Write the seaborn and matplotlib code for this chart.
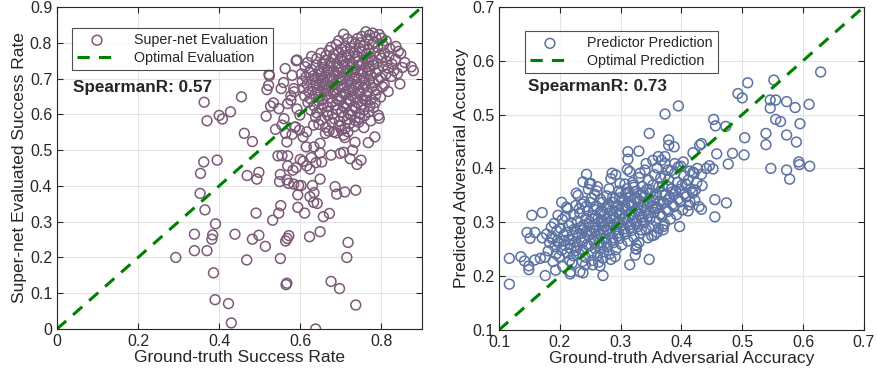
import matplotlib
matplotlib.use("Agg")
import matplotlib.pyplot as plt
import matplotlib.ticker as mticker
import numpy as np
import pandas as pd
import seaborn as sns

# ---- left panel: super-net evaluation (ground truth, evaluated) ----
supernet_sparse = [
    (0.293, 0.200), (0.339, 0.219), (0.339, 0.265), (0.370, 0.219), (0.382, 0.251),
    (0.384, 0.263), (0.391, 0.294), (0.386, 0.157), (0.390, 0.082), (0.423, 0.071),
    (0.430, 0.017), (0.439, 0.265), (0.468, 0.193), (0.482, 0.251), (0.498, 0.262),
    (0.514, 0.231), (0.491, 0.324), (0.532, 0.304), (0.547, 0.324), (0.552, 0.345),
    (0.551, 0.197), (0.565, 0.124), (0.567, 0.128), (0.564, 0.246), (0.568, 0.253),
    (0.572, 0.261), (0.623, 0.258), (0.649, 0.272), (0.638, 0.000), (0.676, 0.133),
    (0.697, 0.113), (0.737, 0.067), (0.718, 0.242), (0.715, 0.200), (0.611, 0.324),
    (0.657, 0.314), (0.672, 0.323), (0.594, 0.340), (0.633, 0.354), (0.642, 0.351),
    (0.634, 0.381), (0.624, 0.370), (0.630, 0.401), (0.649, 0.419), (0.686, 0.398),
    (0.690, 0.377), (0.710, 0.383), (0.737, 0.388), (0.594, 0.375), (0.596, 0.401),
    (0.602, 0.401), (0.584, 0.405), (0.571, 0.407), (0.549, 0.412), (0.551, 0.432),
    (0.567, 0.417), (0.353, 0.379), (0.365, 0.333), (0.354, 0.435), (0.362, 0.467),
    (0.395, 0.472), (0.469, 0.429), (0.493, 0.419), (0.498, 0.438), (0.462, 0.547),
    (0.482, 0.524), (0.363, 0.634), (0.370, 0.582), (0.400, 0.597), (0.408, 0.587),
    (0.428, 0.607), (0.455, 0.649), (0.516, 0.595), (0.527, 0.623), (0.534, 0.632),
    (0.547, 0.616), (0.518, 0.669), (0.522, 0.681), (0.523, 0.712), (0.524, 0.708),
    (0.553, 0.672), (0.559, 0.689), (0.563, 0.728), (0.580, 0.709), (0.590, 0.750),
    (0.584, 0.672), (0.577, 0.640), (0.569, 0.630), (0.539, 0.558), (0.555, 0.570),
    (0.560, 0.588), (0.564, 0.547), (0.567, 0.523), (0.580, 0.544), (0.587, 0.564),
    (0.545, 0.484), (0.555, 0.485), (0.569, 0.484), (0.569, 0.456), (0.582, 0.444),
    (0.590, 0.451), (0.600, 0.474), (0.607, 0.469), (0.616, 0.456), (0.624, 0.447),
    (0.627, 0.479), (0.639, 0.465), (0.649, 0.492), (0.653, 0.467), (0.676, 0.486),
    (0.699, 0.491), (0.707, 0.494), (0.723, 0.476), (0.729, 0.500), (0.735, 0.522),
    (0.740, 0.460), (0.750, 0.472), (0.768, 0.521), (0.784, 0.537), (0.793, 0.597),
    (0.707, 0.542), (0.710, 0.535), (0.682, 0.551), (0.662, 0.547), (0.649, 0.519),
    (0.634, 0.509), (0.615, 0.509), (0.607, 0.537), (0.616, 0.551), (0.633, 0.570),
    (0.585, 0.663), (0.577, 0.652), (0.592, 0.615), (0.599, 0.598), (0.588, 0.565),
    (0.598, 0.556),
]

supernet_cluster = [
    (0.707, 0.824), (0.752, 0.818), (0.762, 0.831), (0.771, 0.822), (0.779, 0.827),
    (0.786, 0.816), (0.795, 0.823),
    (0.695, 0.806), (0.716, 0.811), (0.728, 0.803), (0.741, 0.812), (0.748, 0.800),
    (0.768, 0.809), (0.783, 0.802), (0.801, 0.813), (0.812, 0.805),
    (0.676, 0.788), (0.689, 0.795), (0.702, 0.782), (0.711, 0.791), (0.724, 0.786),
    (0.735, 0.797), (0.746, 0.784), (0.757, 0.792), (0.769, 0.781), (0.778, 0.796),
    (0.791, 0.787), (0.805, 0.793), (0.821, 0.784), (0.836, 0.790),
    (0.628, 0.762), (0.651, 0.771), (0.664, 0.765), (0.671, 0.778), (0.683, 0.768),
    (0.694, 0.774), (0.703, 0.761), (0.712, 0.776), (0.721, 0.767), (0.733, 0.772),
    (0.741, 0.763), (0.752, 0.777), (0.764, 0.769), (0.773, 0.760), (0.782, 0.774),
    (0.796, 0.766), (0.808, 0.772), (0.819, 0.763), (0.842, 0.776), (0.848, 0.770),
    (0.592, 0.752), (0.618, 0.745), (0.641, 0.756), (0.655, 0.742), (0.662, 0.751),
    (0.673, 0.746), (0.681, 0.757), (0.690, 0.741), (0.699, 0.753), (0.707, 0.747),
    (0.716, 0.758), (0.725, 0.743), (0.734, 0.754), (0.743, 0.748), (0.751, 0.741),
    (0.760, 0.755), (0.769, 0.746), (0.778, 0.752), (0.789, 0.743), (0.801, 0.757),
    (0.813, 0.748), (0.826, 0.741), (0.835, 0.754), (0.858, 0.745),
    (0.612, 0.733), (0.627, 0.726), (0.639, 0.738), (0.648, 0.722), (0.657, 0.731),
    (0.666, 0.725), (0.674, 0.736), (0.683, 0.721), (0.692, 0.732), (0.700, 0.727),
    (0.709, 0.739), (0.718, 0.723), (0.727, 0.734), (0.736, 0.728), (0.744, 0.737),
    (0.753, 0.721), (0.762, 0.733), (0.771, 0.726), (0.780, 0.738), (0.792, 0.724),
    (0.804, 0.735), (0.817, 0.729), (0.831, 0.722), (0.852, 0.731), (0.874, 0.733),
    (0.879, 0.722),
    (0.603, 0.713), (0.614, 0.704), (0.622, 0.717), (0.633, 0.708), (0.644, 0.701),
    (0.652, 0.714), (0.661, 0.706), (0.669, 0.718), (0.678, 0.703), (0.687, 0.711),
    (0.695, 0.716), (0.704, 0.702), (0.713, 0.712), (0.722, 0.707), (0.731, 0.719),
    (0.739, 0.704), (0.748, 0.713), (0.757, 0.701), (0.766, 0.715), (0.775, 0.708),
    (0.786, 0.717), (0.798, 0.703), (0.811, 0.712), (0.825, 0.706), (0.840, 0.714),
    (0.605, 0.693), (0.617, 0.684), (0.629, 0.697), (0.638, 0.688), (0.647, 0.681),
    (0.656, 0.694), (0.664, 0.686), (0.673, 0.698), (0.682, 0.683), (0.690, 0.691),
    (0.699, 0.696), (0.708, 0.682), (0.717, 0.692), (0.726, 0.687), (0.734, 0.699),
    (0.743, 0.684), (0.752, 0.693), (0.761, 0.681), (0.770, 0.695), (0.781, 0.688),
    (0.793, 0.697), (0.807, 0.683), (0.846, 0.685),
    (0.608, 0.673), (0.621, 0.664), (0.632, 0.677), (0.642, 0.668), (0.651, 0.661),
    (0.660, 0.674), (0.668, 0.666), (0.677, 0.678), (0.686, 0.663), (0.694, 0.671),
    (0.703, 0.676), (0.712, 0.662), (0.721, 0.672), (0.730, 0.667), (0.738, 0.679),
    (0.747, 0.664), (0.756, 0.673), (0.765, 0.661), (0.776, 0.675), (0.789, 0.668),
    (0.803, 0.677), (0.817, 0.664),
    (0.611, 0.652), (0.625, 0.644), (0.637, 0.657), (0.646, 0.648), (0.655, 0.641),
    (0.664, 0.654), (0.673, 0.646), (0.682, 0.658), (0.691, 0.643), (0.700, 0.651),
    (0.709, 0.656), (0.718, 0.642), (0.727, 0.652), (0.736, 0.647), (0.745, 0.659),
    (0.754, 0.644), (0.763, 0.653), (0.774, 0.641), (0.786, 0.655), (0.798, 0.648),
    (0.619, 0.633), (0.634, 0.624), (0.645, 0.637), (0.656, 0.628), (0.668, 0.621),
    (0.679, 0.634), (0.688, 0.626), (0.697, 0.638), (0.706, 0.623), (0.715, 0.631),
    (0.724, 0.636), (0.733, 0.622), (0.742, 0.632), (0.751, 0.627), (0.761, 0.639),
    (0.772, 0.624), (0.785, 0.633),
    (0.626, 0.612), (0.641, 0.604), (0.653, 0.617), (0.667, 0.608), (0.680, 0.601),
    (0.692, 0.614), (0.701, 0.606), (0.710, 0.618), (0.719, 0.603), (0.728, 0.611),
    (0.737, 0.616), (0.747, 0.602), (0.757, 0.612), (0.769, 0.607), (0.781, 0.619),
    (0.638, 0.592), (0.652, 0.584), (0.668, 0.597), (0.684, 0.588), (0.697, 0.581),
    (0.707, 0.594), (0.716, 0.586), (0.725, 0.598), (0.735, 0.583), (0.746, 0.591),
    (0.759, 0.596), (0.774, 0.582), (0.795, 0.589),
    (0.646, 0.572), (0.663, 0.564), (0.679, 0.577), (0.695, 0.568), (0.711, 0.561),
    (0.722, 0.574), (0.733, 0.566), (0.744, 0.578), (0.757, 0.563),
    (0.671, 0.553), (0.689, 0.548), (0.702, 0.556), (0.718, 0.551),
]

# ---- right panel: predictor prediction (ground truth, predicted) ----
predictor_sparse = [
    (0.117, 0.185), (0.117, 0.233), (0.136, 0.236), (0.142, 0.228), (0.149, 0.219),
    (0.149, 0.212), (0.146, 0.281), (0.159, 0.281), (0.151, 0.270), (0.154, 0.313),
    (0.171, 0.318), (0.171, 0.271), (0.176, 0.201), (0.168, 0.233), (0.176, 0.235),
    (0.159, 0.230), (0.189, 0.227), (0.193, 0.211), (0.205, 0.218), (0.217, 0.204),
    (0.218, 0.208), (0.233, 0.208), (0.238, 0.206), (0.271, 0.201), (0.254, 0.221),
    (0.266, 0.219), (0.284, 0.231), (0.315, 0.221), (0.347, 0.231), (0.324, 0.239),
    (0.326, 0.258), (0.326, 0.250), (0.397, 0.292), (0.455, 0.310), (0.474, 0.336),
    (0.455, 0.342), (0.433, 0.324), (0.429, 0.329), (0.434, 0.368), (0.419, 0.354),
    (0.423, 0.360), (0.411, 0.321), (0.414, 0.338), (0.386, 0.357), (0.370, 0.286),
    (0.351, 0.275), (0.334, 0.286), (0.446, 0.405), (0.452, 0.399), (0.441, 0.400),
    (0.433, 0.389), (0.426, 0.400), (0.419, 0.393), (0.458, 0.427), (0.477, 0.408),
    (0.484, 0.428), (0.503, 0.425), (0.504, 0.457), (0.473, 0.478), (0.453, 0.491),
    (0.456, 0.479), (0.430, 0.443), (0.433, 0.446), (0.419, 0.429), (0.403, 0.412),
    (0.388, 0.440), (0.379, 0.443), (0.379, 0.453), (0.347, 0.465), (0.373, 0.501),
    (0.395, 0.516), (0.493, 0.539), (0.500, 0.531), (0.509, 0.559), (0.552, 0.564),
    (0.546, 0.527), (0.555, 0.527), (0.546, 0.512), (0.555, 0.491), (0.563, 0.487),
    (0.573, 0.524), (0.587, 0.513), (0.610, 0.519), (0.629, 0.579), (0.539, 0.465),
    (0.539, 0.444), (0.573, 0.462), (0.589, 0.449), (0.595, 0.483), (0.547, 0.400),
    (0.573, 0.397), (0.578, 0.380), (0.593, 0.412), (0.594, 0.407), (0.611, 0.404),
    (0.330, 0.432), (0.312, 0.431), (0.312, 0.417), (0.244, 0.389), (0.238, 0.375),
    (0.249, 0.371), (0.227, 0.354), (0.203, 0.337), (0.197, 0.313), (0.211, 0.328),
    (0.286, 0.391), (0.292, 0.388), (0.299, 0.372), (0.311, 0.398), (0.315, 0.394),
    (0.321, 0.369), (0.332, 0.391), (0.342, 0.409), (0.353, 0.415), (0.362, 0.422),
    (0.367, 0.415), (0.373, 0.422), (0.373, 0.409), (0.378, 0.397), (0.389, 0.409),
    (0.395, 0.403), (0.330, 0.262), (0.345, 0.271), (0.360, 0.281), (0.355, 0.276),
    (0.370, 0.292), (0.325, 0.251),
]

predictor_cluster = [
    (0.183, 0.262), (0.178, 0.278), (0.186, 0.291), (0.181, 0.247),
    (0.192, 0.255), (0.188, 0.269), (0.195, 0.284), (0.191, 0.298), (0.194, 0.241),
    (0.203, 0.248), (0.198, 0.262), (0.206, 0.276), (0.201, 0.289), (0.204, 0.305),
    (0.199, 0.236),
    (0.212, 0.243), (0.208, 0.257), (0.215, 0.268), (0.211, 0.281), (0.214, 0.294),
    (0.209, 0.311), (0.213, 0.325), (0.216, 0.229),
    (0.222, 0.238), (0.218, 0.251), (0.225, 0.263), (0.221, 0.275), (0.224, 0.287),
    (0.219, 0.299), (0.223, 0.314), (0.226, 0.331), (0.220, 0.224),
    (0.232, 0.241), (0.228, 0.254), (0.235, 0.266), (0.231, 0.278), (0.234, 0.290),
    (0.229, 0.302), (0.233, 0.317), (0.236, 0.334), (0.230, 0.350), (0.237, 0.227),
    (0.242, 0.235), (0.238, 0.248), (0.245, 0.259), (0.241, 0.271), (0.244, 0.283),
    (0.239, 0.295), (0.243, 0.307), (0.246, 0.321), (0.240, 0.338), (0.247, 0.361),
    (0.242, 0.221),
    (0.252, 0.243), (0.248, 0.256), (0.255, 0.267), (0.251, 0.279), (0.254, 0.290),
    (0.249, 0.301), (0.253, 0.312), (0.256, 0.324), (0.250, 0.337), (0.257, 0.352),
    (0.251, 0.372), (0.254, 0.229),
    (0.262, 0.238), (0.258, 0.251), (0.265, 0.263), (0.261, 0.274), (0.264, 0.285),
    (0.259, 0.296), (0.263, 0.307), (0.266, 0.318), (0.260, 0.330), (0.267, 0.343),
    (0.261, 0.358), (0.264, 0.226),
    (0.272, 0.245), (0.268, 0.258), (0.275, 0.270), (0.271, 0.281), (0.274, 0.292),
    (0.269, 0.303), (0.273, 0.314), (0.276, 0.325), (0.270, 0.337), (0.277, 0.349),
    (0.271, 0.233),
    (0.282, 0.241), (0.278, 0.254), (0.285, 0.266), (0.281, 0.278), (0.284, 0.289),
    (0.279, 0.300), (0.283, 0.311), (0.286, 0.322), (0.280, 0.334), (0.287, 0.347),
    (0.281, 0.362), (0.284, 0.381),
    (0.292, 0.249), (0.288, 0.262), (0.295, 0.274), (0.291, 0.286), (0.294, 0.297),
    (0.289, 0.308), (0.293, 0.319), (0.296, 0.331), (0.290, 0.344), (0.297, 0.358),
    (0.291, 0.236),
    (0.302, 0.258), (0.298, 0.270), (0.305, 0.282), (0.301, 0.294), (0.304, 0.305),
    (0.299, 0.316), (0.303, 0.328), (0.306, 0.341), (0.300, 0.355), (0.307, 0.371),
    (0.312, 0.265), (0.308, 0.278), (0.315, 0.290), (0.311, 0.301), (0.314, 0.312),
    (0.309, 0.323), (0.313, 0.335), (0.316, 0.348), (0.310, 0.362),
    (0.322, 0.272), (0.318, 0.285), (0.325, 0.297), (0.321, 0.308), (0.324, 0.319),
    (0.319, 0.331), (0.323, 0.344), (0.326, 0.357), (0.320, 0.374),
    (0.332, 0.279), (0.328, 0.292), (0.335, 0.304), (0.331, 0.315), (0.334, 0.326),
    (0.329, 0.338), (0.333, 0.351), (0.336, 0.366), (0.330, 0.383),
    (0.342, 0.286), (0.338, 0.299), (0.345, 0.311), (0.341, 0.322), (0.344, 0.334),
    (0.339, 0.347), (0.343, 0.361), (0.346, 0.378), (0.340, 0.397),
    (0.352, 0.293), (0.348, 0.306), (0.355, 0.318), (0.351, 0.329), (0.354, 0.341),
    (0.349, 0.354), (0.353, 0.369), (0.356, 0.388),
    (0.362, 0.289), (0.358, 0.302), (0.365, 0.315), (0.361, 0.327), (0.364, 0.339),
    (0.359, 0.352), (0.363, 0.366), (0.366, 0.382), (0.360, 0.401),
    (0.372, 0.297), (0.368, 0.311), (0.375, 0.324), (0.371, 0.337), (0.374, 0.351),
    (0.369, 0.367), (0.373, 0.386),
    (0.382, 0.306), (0.378, 0.320), (0.385, 0.333), (0.381, 0.347), (0.384, 0.362),
    (0.379, 0.379), (0.383, 0.396),
    (0.392, 0.314), (0.388, 0.329), (0.395, 0.343), (0.391, 0.358), (0.394, 0.374),
    (0.389, 0.391),
    (0.402, 0.323), (0.398, 0.338), (0.405, 0.353), (0.401, 0.369), (0.404, 0.386),
    (0.399, 0.404),
    (0.412, 0.332), (0.408, 0.347), (0.415, 0.362), (0.411, 0.378), (0.414, 0.395),
    (0.422, 0.341), (0.418, 0.357), (0.425, 0.373), (0.421, 0.391),
    (0.187, 0.273), (0.196, 0.266), (0.207, 0.266), (0.217, 0.259), (0.226, 0.247),
    (0.227, 0.281), (0.237, 0.262), (0.238, 0.285), (0.247, 0.276), (0.247, 0.296),
    (0.257, 0.262), (0.258, 0.284), (0.258, 0.307), (0.267, 0.253), (0.267, 0.277),
    (0.268, 0.299), (0.268, 0.321), (0.277, 0.262), (0.278, 0.285), (0.277, 0.307),
    (0.278, 0.328), (0.287, 0.271), (0.288, 0.294), (0.287, 0.315), (0.288, 0.337),
    (0.297, 0.280), (0.298, 0.301), (0.297, 0.323), (0.298, 0.345), (0.307, 0.288),
    (0.308, 0.309), (0.307, 0.331), (0.308, 0.352), (0.317, 0.296), (0.318, 0.316),
    (0.317, 0.338), (0.327, 0.303), (0.328, 0.324), (0.327, 0.345), (0.337, 0.310),
    (0.338, 0.331), (0.337, 0.355), (0.347, 0.318), (0.348, 0.339), (0.347, 0.361),
    (0.357, 0.326), (0.358, 0.347), (0.367, 0.333), (0.368, 0.355), (0.377, 0.341),
    (0.378, 0.366), (0.387, 0.352), (0.397, 0.361), (0.407, 0.371), (0.262, 0.366),
    (0.252, 0.345), (0.243, 0.329), (0.232, 0.325), (0.322, 0.365), (0.312, 0.356),
]

left_df = pd.DataFrame(supernet_sparse + supernet_cluster, columns=["gt", "est"])
right_df = pd.DataFrame(predictor_sparse + predictor_cluster, columns=["gt", "est"])

purple = "#7b5a78"
slate = "#5c72a2"
green = "#008000"

sns.set_style("ticks")
plt.rcParams["font.family"] = ["Liberation Sans", "DejaVu Sans"]

fig = plt.figure(figsize=(8.77, 3.81), dpi=100)
ax1 = fig.add_axes([0.065, 0.1365, 0.416, 0.845])
ax2 = fig.add_axes([0.569, 0.1340, 0.416, 0.848])

panels = [
    (ax1, left_df, purple, "Super-net Evaluation", "Optimal Evaluation",
     "SpearmanR: 0.57", (0.0, 0.9), "Ground-truth Success Rate",
     "Super-net Evaluated Success Rate", np.arange(0, 0.81, 0.2), np.arange(0, 0.91, 0.1),
     (0.041, 0.935), (0.044, 0.75)),
    (ax2, right_df, slate, "Predictor Prediction", "Optimal Prediction",
     "SpearmanR: 0.73", (0.1, 0.7), "Ground-truth Adversarial Accuracy",
     "Predicted Adversarial Accuracy", np.arange(0.1, 0.71, 0.1), np.arange(0.1, 0.71, 0.1),
     (0.071, 0.925), (0.079, 0.752)),
]

fmt = mticker.FuncFormatter(lambda v, p: f"{v:g}")

for (ax, df, col, lab, optlab, rtxt, lims, xl, yl, xt, yt, legpos, txtpos) in panels:
    sns.scatterplot(data=df, x="gt", y="est", ax=ax, marker="o", s=50,
                    facecolor="none", edgecolor=col, linewidth=1.1, label=lab)
    ax.plot(lims, lims, linestyle=(0, (4, 3)), color=green, linewidth=2.2, label=optlab)
    ax.set_xlim(lims)
    ax.set_ylim(lims)
    ax.set_xticks(xt)
    ax.set_yticks(yt)
    ax.xaxis.set_major_formatter(fmt)
    ax.yaxis.set_major_formatter(fmt)
    ax.grid(True, color="#e3e3e3", linewidth=0.8)
    ax.set_axisbelow(True)
    ax.tick_params(direction="in", top=True, right=True, length=4, labelsize=11.5,
                   colors="#262626", width=0.8)
    for sp in ax.spines.values():
        sp.set_visible(True)
        sp.set_color("#262626")
        sp.set_linewidth(0.8)
    ax.set_xlabel(xl, fontsize=12.5, color="#262626", labelpad=1)
    ax.set_ylabel(yl, fontsize=12.5, color="#262626", labelpad=2)
    leg = ax.legend(loc="upper left", bbox_to_anchor=legpos, fontsize=10.3,
                    frameon=True, fancybox=False, edgecolor="#262626",
                    borderpad=0.35, handlelength=2.8, handletextpad=1.2,
                    labelspacing=0.3, borderaxespad=0)
    leg.get_frame().set_linewidth(0.8)
    ax.text(txtpos[0], txtpos[1], rtxt, transform=ax.transAxes, fontsize=12.3,
            fontweight="bold", va="center", ha="left")

fig.savefig("out.png", dpi=100)
